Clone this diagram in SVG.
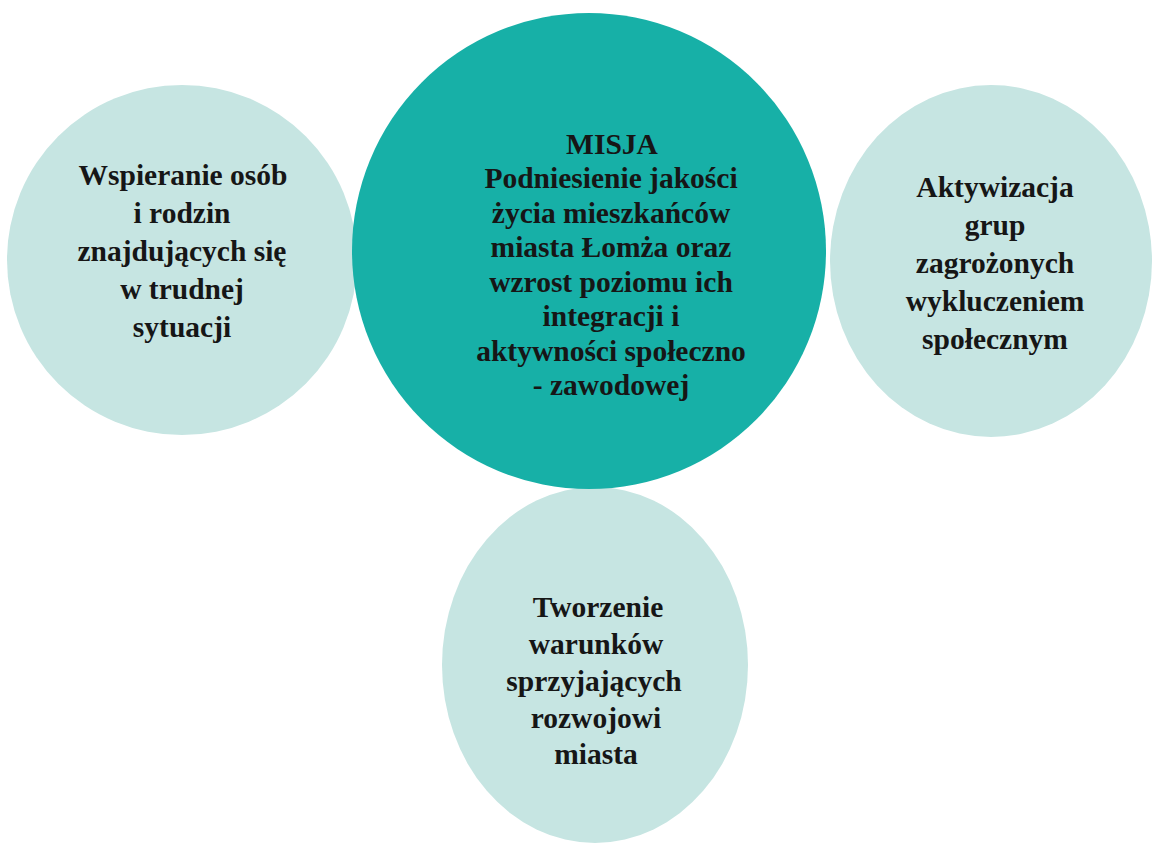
<svg xmlns="http://www.w3.org/2000/svg" width="1156" height="845" viewBox="0 0 1156 845">
<style>
.light{fill:#c6e5e2;}
.main{fill:#17b0a7;}
.t{font-family:"Liberation Serif","Times New Roman",serif;font-weight:bold;font-size:29.5px;fill:#161616;text-anchor:middle;}
</style>
<rect width="1156" height="845" fill="#ffffff"/>
<g id="connectors"></g>
<g id="node-left">
<ellipse class="light" cx="182" cy="260" rx="175" ry="175"/>
<text class="t" x="183" y="185">Wspieranie osób</text>
<text class="t" x="182" y="223">i rodzin</text>
<text class="t" x="182" y="261">znajdujących się</text>
<text class="t" x="182" y="299">w trudnej</text>
<text class="t" x="182" y="337">sytuacji</text>
</g>
<g id="node-right">
<ellipse class="light" cx="991" cy="261" rx="161" ry="176"/>
<text class="t" x="995" y="197">Aktywizacja</text>
<text class="t" x="995" y="235">grup</text>
<text class="t" x="995" y="273">zagrożonych</text>
<text class="t" x="995" y="311">wykluczeniem</text>
<text class="t" x="995" y="349">społecznym</text>
</g>
<g id="node-bottom">
<ellipse class="light" cx="595" cy="665" rx="153" ry="178"/>
<text class="t" x="598" y="617">Tworzenie</text>
<text class="t" x="596" y="654">warunków</text>
<text class="t" x="594" y="691">sprzyjających</text>
<text class="t" x="596" y="728">rozwojowi</text>
<text class="t" x="596" y="764">miasta</text>
</g>
<g id="node-center">
<ellipse class="main" cx="589" cy="251" rx="237" ry="238"/>
<text class="t" x="612" y="154">MISJA</text>
<text class="t" x="611" y="188">Podniesienie jakości</text>
<text class="t" x="611" y="223">życia mieszkańców</text>
<text class="t" x="611" y="257">miasta Łomża oraz</text>
<text class="t" x="611" y="292">wzrost poziomu ich</text>
<text class="t" x="611" y="326">integracji i</text>
<text class="t" x="611" y="361">aktywności społeczno</text>
<text class="t" x="611" y="395">- zawodowej</text>
</g>
</svg>
